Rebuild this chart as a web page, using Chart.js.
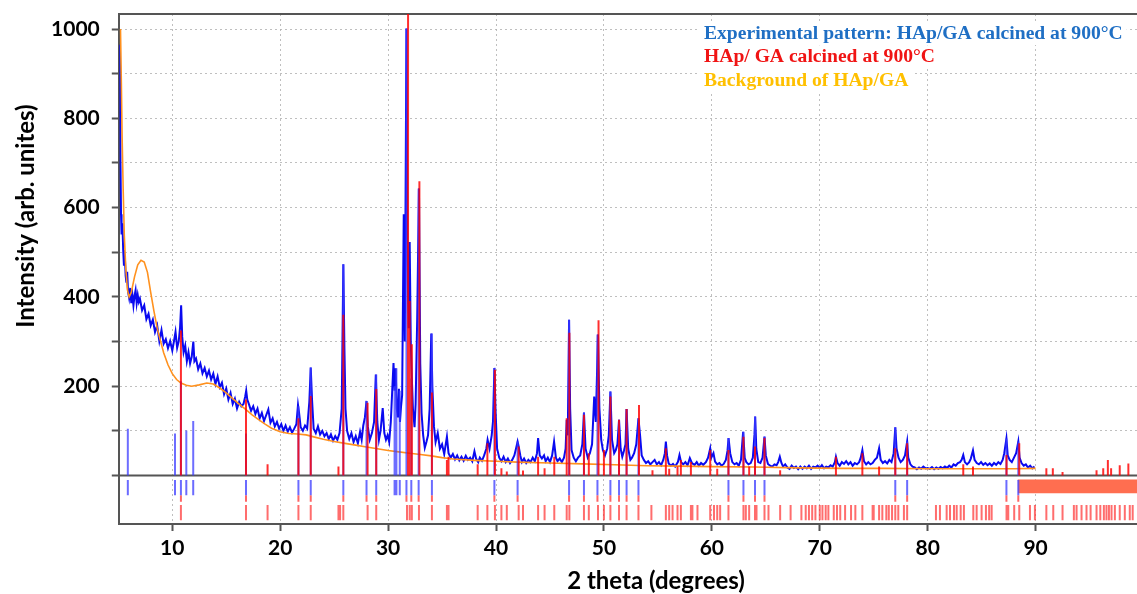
<!DOCTYPE html>
<html>
<head>
<meta charset="utf-8">
<title>HAp/GA 900°C - XRD</title>
<script src="https://cdn.jsdelivr.net/npm/chart.js@4.4.1/dist/chart.umd.min.js"></script>
<style>
  html, body { margin: 0; padding: 0; background: #fff; }
  #wrap { position: relative; width: 1137px; height: 594px; }
</style>
</head>
<body>
<div id="wrap"><canvas id="xrdChart"></canvas></div>
<script>
// experimental pattern [2theta, intensity]
const expPattern = [
  [5.15,965],[5.2,700],[5.25,585],[5.3,540],[5.38,565],[5.45,505],[5.52,470],[5.6,492],[5.68,447],[5.75,432],
  [5.82,456],[5.9,412],[6.0,398],[6.1,420],[6.2,386],[6.3,405],[6.4,381],[6.5,402],[6.6,415],[6.7,386],
  [6.8,404],[6.9,389],[7.0,396],[7.2,370],[7.4,381],[7.6,350],[7.8,362],[8.0,336],[8.2,349],[8.4,321],
  [8.6,336],[8.8,301],[9.0,326],[9.2,295],[9.4,305],[9.6,285],[9.8,301],[10.0,280],[10.15,300],[10.3,322],
  [10.45,286],[10.6,301],[10.72,331],[10.82,381],[10.92,311],[11.05,276],[11.2,291],[11.35,256],[11.5,276],[11.65,251],
  [11.8,266],[11.95,300],[12.05,256],[12.2,262],[12.4,238],[12.6,251],[12.8,229],[13.0,241],[13.2,222],[13.4,235],
  [13.6,215],[13.8,228],[14.0,205],[14.2,222],[14.4,198],[14.6,208],[14.8,182],[15.0,195],[15.2,170],[15.4,185],
  [15.6,160],[15.8,172],[16.0,150],[16.2,165],[16.4,155],[16.6,160],[16.75,176],[16.85,190],[16.95,170],[17.1,160],
  [17.3,145],[17.5,155],[17.7,138],[17.9,150],[18.1,128],[18.3,140],[18.5,122],[18.7,135],[18.9,148],[19.1,118],
  [19.3,128],[19.5,110],[19.7,120],[19.9,105],[20.1,115],[20.3,100],[20.5,112],[20.7,98],[20.9,108],[21.1,96],
  [21.3,105],[21.5,115],[21.65,158],[21.75,140],[21.9,108],[22.1,100],[22.3,112],[22.5,105],[22.7,165],[22.83,242],
  [22.95,170],[23.1,105],[23.3,95],[23.5,110],[23.7,92],[23.9,100],[24.1,88],[24.3,95],[24.5,82],[24.7,92],
  [24.9,78],[25.1,88],[25.3,80],[25.5,95],[25.7,150],[25.85,473],[25.95,287],[26.05,150],[26.2,100],[26.4,82],
  [26.6,95],[26.8,75],[27.0,88],[27.2,72],[27.4,98],[27.55,80],[27.7,112],[27.85,130],[28.0,167],[28.12,110],
  [28.3,80],[28.5,95],[28.7,120],[28.86,226],[29.0,120],[29.15,80],[29.3,100],[29.5,151],[29.65,95],[29.8,80],
  [29.95,90],[30.1,75],[30.25,120],[30.4,200],[30.5,252],[30.6,190],[30.7,240],[30.8,150],[30.9,130],[31.0,194],
  [31.1,120],[31.2,155],[31.3,180],[31.45,585],[31.55,300],[31.7,1001],[31.8,480],[31.9,330],[32.0,523],[32.1,300],
  [32.2,217],[32.3,150],[32.45,108],[32.55,160],[32.7,356],[32.86,643],[32.98,250],[33.1,140],[33.25,90],[33.4,62],
  [33.55,75],[33.7,90],[33.85,150],[34.0,318],[34.1,200],[34.25,110],[34.4,75],[34.6,95],[34.8,60],[35.0,70],
  [35.2,48],[35.45,87],[35.6,50],[35.8,40],[36.0,48],[36.2,36],[36.4,45],[36.6,34],[36.8,42],[37.0,33],
  [37.2,44],[37.4,35],[37.6,40],[37.8,32],[38.0,54],[38.15,38],[38.35,30],[38.5,40],[38.7,33],[38.9,45],
  [39.1,60],[39.22,80],[39.4,60],[39.6,90],[39.72,121],[39.85,241],[39.95,150],[40.1,60],[40.3,40],[40.5,32],
  [40.7,42],[40.9,30],[41.1,38],[41.3,28],[41.5,35],[41.7,45],[41.85,60],[42.0,76],[42.1,65],[42.25,45],
  [42.4,30],[42.6,38],[42.8,28],[43.0,35],[43.2,30],[43.4,40],[43.6,32],[43.8,50],[43.9,84],[44.05,45],
  [44.25,38],[44.45,45],[44.6,32],[44.8,40],[45.0,30],[45.2,45],[45.38,76],[45.55,40],[45.7,32],[45.9,38],
  [46.1,30],[46.3,40],[46.45,60],[46.55,125],[46.65,90],[46.77,349],[46.87,150],[47.0,57],[47.2,40],[47.4,32],
  [47.6,40],[47.8,45],[48.0,70],[48.15,141],[48.3,60],[48.5,40],[48.7,50],[48.9,70],[49.1,177],[49.25,120],
  [49.45,316],[49.58,151],[49.75,80],[49.9,57],[50.1,45],[50.3,60],[50.45,90],[50.6,188],[50.75,80],[50.95,50],
  [51.1,57],[51.25,70],[51.4,125],[51.55,60],[51.7,42],[51.85,55],[52.0,70],[52.1,149],[52.25,60],[52.45,35],
  [52.6,40],[52.8,50],[53.0,70],[53.2,128],[53.35,90],[53.5,45],[53.7,35],[53.9,28],[54.1,32],[54.3,25],
  [54.5,30],[54.7,35],[54.9,25],[55.1,30],[55.3,23],[55.5,35],[55.65,50],[55.74,76],[55.85,45],[56.0,27],
  [56.2,22],[56.4,26],[56.6,20],[56.85,30],[57.0,46],[57.15,30],[57.35,25],[57.55,30],[57.75,23],[57.96,39],
  [58.15,28],[58.4,24],[58.6,30],[58.8,22],[59.0,28],[59.2,24],[59.45,30],[59.65,40],[59.85,61],[59.95,40],
  [60.15,50],[60.3,31],[60.5,25],[60.7,28],[60.9,22],[61.1,26],[61.3,35],[61.45,55],[61.55,84],[61.7,50],
  [61.9,30],[62.1,25],[62.3,28],[62.5,22],[62.7,35],[62.9,98],[63.05,39],[63.2,30],[63.4,25],[63.6,28],
  [63.8,40],[63.95,91],[64.02,132],[64.12,60],[64.3,30],[64.5,28],[64.7,40],[64.88,87],[65.0,45],[65.2,26],
  [65.4,22],[65.6,20],[65.8,25],[66.0,23],[66.15,30],[66.3,42],[66.45,28],[66.6,20],[66.8,25],[67.0,18],
  [67.2,15],[67.4,22],[67.6,17],[67.8,20],[68.0,14],[68.2,20],[68.4,15],[68.6,20],[68.8,16],[69.0,22],
  [69.2,15],[69.4,20],[69.6,18],[69.8,22],[70.0,17],[70.2,23],[70.4,16],[70.6,20],[70.8,18],[71.0,23],
  [71.2,20],[71.4,30],[71.5,42],[71.65,28],[71.85,22],[72.05,30],[72.25,26],[72.45,32],[72.65,25],[72.85,30],
  [73.05,22],[73.25,28],[73.45,25],[73.65,30],[73.8,40],[73.95,57],[74.1,32],[74.3,25],[74.5,30],[74.7,25],
  [74.9,28],[75.1,35],[75.3,40],[75.5,61],[75.65,35],[75.85,28],[76.05,32],[76.25,27],[76.45,35],[76.65,30],
  [76.85,50],[77.0,108],[77.12,60],[77.3,40],[77.5,30],[77.7,35],[77.9,45],[78.1,76],[78.2,40],[78.4,25],
  [78.6,20],[78.8,18],[79.0,14],[79.2,18],[79.4,15],[79.6,20],[79.8,16],[80.0,17],[80.2,15],[80.4,19],
  [80.6,14],[80.8,18],[81.0,15],[81.2,19],[81.4,16],[81.6,20],[81.8,17],[82.0,22],[82.2,18],[82.4,25],
  [82.6,22],[82.8,28],[83.0,30],[83.15,35],[83.3,46],[83.45,30],[83.65,25],[83.85,30],[84.0,38],[84.2,56],
  [84.35,35],[84.55,28],[84.75,25],[84.95,30],[85.15,24],[85.35,28],[85.55,23],[85.75,27],[85.95,22],[86.15,28],
  [86.35,24],[86.55,30],[86.75,26],[86.95,35],[87.1,50],[87.3,83],[87.42,45],[87.6,35],[87.8,30],[88.0,40],
  [88.2,50],[88.4,76],[88.52,40],[88.7,28],[88.9,22],[89.1,25],[89.3,18],[89.5,22],[89.7,16],[89.9,20]
];

// fitted background
const bgPattern = [
  [5.2,1000],[5.28,880],[5.35,760],[5.45,640],[5.55,540],[5.7,460],[5.85,415],[6.0,400],[6.2,410],[6.5,445],
  [6.8,472],[7.1,482],[7.4,478],[7.7,455],[8.0,410],[8.3,368],[8.6,330],[8.9,302],[9.2,275],[9.6,248],
  [10.0,228],[10.4,215],[10.8,207],[11.3,202],[11.8,200],[12.5,203],[13.2,207],[13.8,205],[14.4,196],[15.0,185],
  [15.6,172],[16.2,160],[16.8,148],[17.4,136],[18.0,125],[18.6,115],[19.2,106],[20.0,98],[20.8,94],[21.6,93],
  [22.4,91],[23.2,86],[24.0,81],[25.0,76],[26.0,72],[27.0,68],[28.0,64],[29.0,60],[30.0,56],[31.0,53],
  [32.0,50],[33.0,47],[34.0,44],[35.0,40],[36.0,37],[38.0,34],[40.0,32],[42.0,30],[45.0,28],[48.0,26],
  [51.0,24],[54.0,22],[57.0,21],[60.0,20],[64.0,19],[68.0,17],[72.0,16],[76.0,16],[80.0,15],[84.0,15],
  [88.0,15],[90.0,16]
];

// calculated HAp/GA reflections (position, intensity)
const calcPos = [10.8,16.83,18.83,21.69,22.83,25.4,25.85,28.1,28.9,31.85,32.0,32.2,32.9,34.06,35.45,35.6,38.3,39.2,39.9,40.5,
  41.0,42.1,42.5,43.9,44.5,45.4,46.55,46.8,48.15,48.6,49.5,50.0,50.6,51.4,52.1,53.25,54.5,55.74,56.05,56.82,
  57.13,58.06,59.85,60.5,61.54,62.93,63.46,64.0,64.88,66.33,71.5,73.95,75.5,77.0,78.1,83.3,84.2,87.31,88.49,91.0,
  91.6,92.5,95.65,96.27,96.7,97.0,97.8,98.6];
const calcInt = [325,170,25,128,178,20,360,163,194,1040,391,294,659,186,35,42,25,72,237,16,
  9,65,11,42,16,42,128,320,136,50,348,57,177,125,149,158,12,61,15,20,
  35,30,57,15,57,87,20,65,84,12,42,50,20,61,72,25,20,46,72,16,
  16,8,12,16,35,16,23,27];

// observed peak sticks
const obsPos = [5.88,10.25,10.8,11.3,11.94,16.83,21.69,22.83,25.85,28.0,28.9,30.6,30.77,31.08,31.7,32.15,32.83,34.06,39.85,42.0,
  46.77,48.15,49.4,50.6,51.4,52.1,53.2,61.54,62.93,64.0,64.88,77.0,78.1,87.3,88.4];
const obsInt = [105,94,211,101,122,94,155,242,473,167,226,200,240,190,1001,217,643,318,241,76,
  349,141,316,188,125,149,128,84,98,132,87,108,76,83,76];
const obsNoCalc = [5.88,10.25,11.3,11.94,30.6,30.77,31.08];

// Bragg position markers of the refined phase
const calcRowPos = [10.8,16.83,18.83,21.69,22.83,25.4,25.55,25.85,28.1,28.9,31.75,32.0,32.2,32.86,34.06,35.45,35.6,38.3,39.2,39.9,
  40.5,41.0,42.1,42.5,43.9,44.5,45.4,46.55,46.8,48.15,48.6,49.45,50.0,50.6,51.4,52.1,53.2,54.4,55.74,56.05,
  56.36,56.82,57.13,58.06,58.2,58.67,59.85,60.2,60.5,60.77,61.54,62.93,63.15,63.46,64.0,64.14,64.88,65.25,66.33,67.3,
  68.3,68.7,69.0,69.3,69.6,70.0,70.25,70.55,70.8,71.3,71.6,71.9,72.35,72.9,73.3,73.95,74.9,75.0,75.5,75.8,
  76.17,76.4,76.7,77.0,77.28,77.8,78.1,80.77,81.14,81.76,82.07,82.44,82.69,83.06,83.36,84.23,84.54,85.0,85.4,85.7,
  85.93,87.31,87.47,88.02,88.49,89.48,89.94,91.0,91.64,92.5,93.55,93.8,94.26,94.72,95.1,95.65,96.0,96.33,96.57,96.8,
  97.04,97.35,97.8,98.27,98.73,99.0];

// excluded region (no data)
const excludedRange = [88.35, 99.4];

const xTickLabels = [10, 20, 30, 40, 50, 60, 70, 80, 90];
const yTickLabels = [200, 400, 600, 800, 1000];

const legendRows = [
  { text: 'Experimental pattern: HAp/GA calcined at 900°C', color: '#1f6fc4' },
  { text: 'HAp/ GA calcined at 900°C', color: '#f01414' },
  { text: 'Background of HAp/GA', color: '#ffc000' }
];

function toXY(list) {
  return list.map(p => ({ x: p[0], y: p[1] }));
}

// vertical sticks from 0 to the intensity
function sticks(pos, ints) {
  const out = [];
  pos.forEach((p, i) => {
    out.push({ x: p, y: 0 }, { x: p, y: ints[i] }, { x: p, y: null });
  });
  return out;
}

// short marker ticks between two levels
function markers(pos, from, to) {
  const out = [];
  pos.forEach(p => {
    out.push({ x: p, y: from }, { x: p, y: to }, { x: p, y: null });
  });
  return out;
}

const decor = {
  id: 'decor',
  beforeDatasetsDraw(chart) {
    const { ctx, chartArea: a, scales: { y } } = chart;
    const y0 = y.getPixelForValue(0);
    ctx.save();
    ctx.strokeStyle = '#555';
    ctx.lineWidth = 2;
    ctx.beginPath();
    ctx.moveTo(a.left, y0);
    ctx.lineTo(a.right, y0);
    ctx.moveTo(a.left, a.top);
    ctx.lineTo(a.right, a.top);
    ctx.stroke();
    ctx.restore();
  },
  afterDraw(chart) {
    const { ctx } = chart;
    ctx.save();
    // legend text
    ctx.font = 'bold 19.6px "Liberation Serif", "Times New Roman", serif';
    ctx.textBaseline = 'alphabetic';
    ctx.textAlign = 'left';
    legendRows.forEach((row, i) => {
      const by = 39 + i * 23.3;
      const w = ctx.measureText(row.text).width;
      ctx.fillStyle = '#fff';
      ctx.fillRect(700, by - 17, w + 8, 23);
      ctx.fillStyle = row.color;
      ctx.fillText(row.text, 704, by);
    });
    // axis titles
    ctx.fillStyle = '#000';
    ctx.font = 'bold 24px Lato, "Open Sans", sans-serif';
    ctx.textAlign = 'center';
    ctx.textBaseline = 'middle';
    ctx.fillText('2 theta (degrees)', 656, 581);
    ctx.translate(26, 216);
    ctx.rotate(-Math.PI / 2);
    ctx.fillText('Intensity (arb. unites)', 0, 0);
    ctx.restore();
  }
};

document.addEventListener('DOMContentLoaded', function() {
  const ctx = document.getElementById('xrdChart').getContext('2d');
  const tailPos = obsPos.filter(p => !obsNoCalc.includes(p));
  const gridColor = 'rgba(175,175,175,0.8)';

  new Chart(ctx, {
    type: 'line',
    data: {
      datasets: [
        {
          label: 'excluded',
          data: [{ x: excludedRange[0], y: -10 }, { x: excludedRange[1], y: -10 }],
          borderColor: 'rgb(255,110,80)',
          borderWidth: 1,
          backgroundColor: 'rgb(255,110,80)',
          fill: { value: -40 },
          order: 9
        },
        {
          label: 'calc markers',
          data: markers(calcRowPos, -66, -100),
          borderColor: 'rgba(255,30,30,0.65)',
          borderWidth: 2,
          order: 8
        },
        {
          label: 'obs markers',
          data: markers(obsPos, -10, -44),
          borderColor: 'rgba(70,70,255,0.8)',
          borderWidth: 2,
          order: 8
        },
        {
          label: 'calc tails',
          data: markers(tailPos, -44, -59),
          borderColor: 'rgba(255,50,50,0.75)',
          borderWidth: 2,
          order: 8
        },
        {
          label: 'Experimental pattern: HAp/GA calcined at 900°C',
          data: toXY(expPattern),
          borderColor: 'rgb(10,10,240)',
          borderWidth: 2,
          order: 6
        },
        {
          label: 'Background of HAp/GA',
          data: toXY(bgPattern),
          borderColor: 'rgb(255,145,30)',
          borderWidth: 1.6,
          order: 5
        },
        {
          label: 'obs sticks',
          data: sticks(obsPos, obsInt),
          borderColor: 'rgba(60,60,255,0.75)',
          borderWidth: 2,
          order: 4
        },
        {
          label: 'HAp/ GA calcined at 900°C',
          data: sticks(calcPos, calcInt),
          borderColor: 'rgba(255,0,0,0.82)',
          borderWidth: 2,
          order: 3
        }
      ]
    },
    options: {
      responsive: true,
      maintainAspectRatio: false,
      animation: false,
      events: [],
      spanGaps: false,
      elements: {
        point: { radius: 0, hoverRadius: 0 },
        line: { tension: 0, borderCapStyle: 'butt' }
      },
      layout: { padding: { top: 14, left: 0, right: 0, bottom: 0 } },
      plugins: {
        legend: { display: false },
        tooltip: { enabled: false }
      },
      scales: {
        x: {
          type: 'linear',
          min: 5.09,
          max: 99.4,
          afterFit: function(scale) {
            scale.height = 70;
            scale.paddingLeft = 0;
            scale.paddingRight = 0;
          },
          ticks: {
            stepSize: 10,
            includeBounds: false,
            autoSkip: false,
            maxRotation: 0,
            padding: 5,
            color: '#000',
            font: { family: 'Lato', weight: 'bold', size: 21 },
            callback: function(value) {
              return xTickLabels.includes(value) ? String(value) : '';
            }
          },
          grid: { color: gridColor, lineWidth: 1, tickLength: 7, tickWidth: 2, tickColor: '#555' },
          border: { color: '#555', width: 2, dash: [2, 3] }
        },
        y: {
          min: -108.6,
          max: 1033.6,
          afterFit: function(scale) {
            scale.width = 119.3;
            scale.paddingTop = 0;
            scale.paddingBottom = 0;
          },
          afterBuildTicks: function(scale) {
            scale.ticks = scale.ticks.filter(t => t.value >= 0);
          },
          ticks: {
            stepSize: 100,
            includeBounds: false,
            autoSkip: false,
            padding: 12,
            color: '#000',
            font: { family: 'Lato', weight: 'bold', size: 21 },
            callback: function(value) {
              return yTickLabels.includes(value) ? String(value) : '';
            }
          },
          grid: {
            color: function(c) {
              return c.tick && c.tick.value === 0 ? 'rgba(0,0,0,0)' : gridColor;
            },
            lineWidth: 1,
            tickLength: 7.5,
            tickWidth: 2,
            tickColor: '#555'
          },
          border: { color: '#555', width: 2, dash: [2, 3] }
        }
      }
    },
    plugins: [decor]
  });
});
</script>
</body>
</html>
